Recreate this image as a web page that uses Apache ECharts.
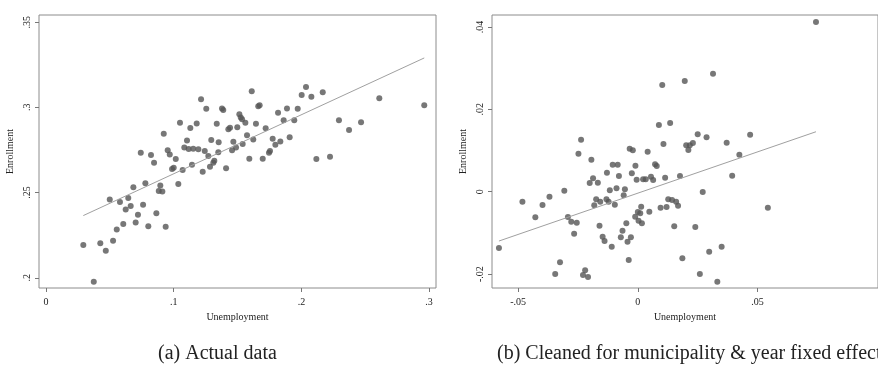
<!DOCTYPE html>
<html>
<head>
<meta charset="utf-8">
<script src="https://cdn.jsdelivr.net/npm/echarts@6/dist/echarts.min.js"></script>
<style>
  html, body { margin: 0; padding: 0; background: #fff; }
  #chart { width: 878px; height: 365px; }
</style>
</head>
<body>
<div id="chart"></div>
<script>
// (a) actual data
const actualUnemployment = [
  .1214, .1255, .1049, .1130, .1180, .1337, .0922, .1104, .1294, .1352,
  .1083, .1117, .1153, .1193, .1243, .0742, .0822, .0953, .0969, .1016,
  .1271, .1611, .2036, .2002, .2078, .2167, .2610, .2962, .1378, .1388,
  .1662, .1673, .1817, .1887, .1971, .1514, .1525, .1535, .1561, .1644,
  .1861, .1944, .2294, .1428, .1441, .1498, .1720, .2373, .2467, .1574,
  .1467, .1623, .1775, .1835, .1908, .1796, .1540, .1488, .1457, .1349,
  .1592, .1697, .1746, .1754, .2117, .2224, .1227, .1284, .1318, .1310,
  .1410, .0846, .0987, .1000, .1070, .1143, .1036, .0778, .0684, .0895,
  .0883, .0911, .0499, .0579, .0644, .0663, .0624, .0760, .0720, .0864,
  .0702, .0605, .0801, .0937, .0554, .0525, .0425, .0468, .0292, .0374
];
const actualEnrollment = [
  .3047, .2992, .2910, .2879, .2906, .2904, .2845, .2806, .2808, .2795,
  .2765, .2755, .2757, .2754, .2744, .2734, .2720, .2749, .2724, .2697,
  .2714, .3094, .3119, .3072, .3062, .3088, .3053, .3013, .2994, .2984,
  .3006, .3013, .2968, .2994, .2992, .2959, .2941, .2930, .2910, .2904,
  .2924, .2925, .2925, .2871, .2880, .2883, .2877, .2867, .2912, .2837,
  .2798, .2812, .2816, .2800, .2824, .2781, .2785, .2765, .2749, .2736,
  .2698, .2698, .2734, .2744, .2697, .2710, .2622, .2651, .2687, .2675,
  .2642, .2675, .2638, .2646, .2632, .2663, .2550, .2554, .2531, .2542,
  .2509, .2507, .2460, .2444, .2468, .2421, .2401, .2428, .2370, .2378,
  .2325, .2315, .2302, .2299, .2284, .2217, .2202, .2158, .2192, .1977
];
const actualFitX = [.0292, .2962];
const actualFitY = [.2365, .3290];

// (b) cleaned for municipality & year fixed effects
const cleanedUnemployment = [
  -.0237, -.0248, -.0194, -.0034, -.0021, .0041, .0088, .0744, .0102, .0196,
  .0314, .0135, .0250, .0287, .0469, .0107, .0202, .0217, .0230, .0211,
  .0371, .0424, -.0105, -.0084, -.0010, .0072, .0079, -.0129, -.0079, -.0025,
  -.0005, .0022, .0033, .0055, .0064, -.0187, -.0201, -.0167, -.0089, -.0117,
  -.0054, -.0059, -.0307, -.0369, -.0482, -.0398, -.0428, -.0292, -.0278, -.0255,
  -.0174, -.0157, -.0131, -.0122, -.0182, -.0096, -.0011, .0000, .0010, .0014,
  .0003, .0017, .0048, -.0048, -.0160, -.0266, -.0064, -.0147, -.0139, -.0071,
  -.0029, -.0043, -.0109, -.0580, -.0038, -.0325, -.0345, -.0220, -.0229, -.0208,
  .0114, .0176, .0394, .0271, .0127, .0143, .0160, .0168, .0095, .0120,
  .0543, .0152, .0240, .0350, .0298, .0186, .0259, .0332
];
const cleanedEnrollment = [
  .01262, .00922, .00777, .01044, .01005, .00971, .01619, .04119, .02590, .02687,
  .02864, .01667, .01393, .01320, .01383, .01158, .01126, .01126, .01182, .01012,
  .01189, .00898, .00655, .00655, .00631, .00665, .00624, .00461, .00381, .00447,
  .00291, .00301, .00301, .00364, .00284, .00325, .00211, .00218, .00083, .00034,
  .00058, -.00087, .00024, -.00121, -.00243, -.00323, -.00621, -.00614, -.00728, -.00752,
  -.00184, -.00243, -.00184, -.00243, -.00330, -.00316, -.00607, -.00493, -.00524, -.00364,
  -.00704, -.00767, -.00485, -.00767, -.00825, -.01019, -.00947, -.01092, -.01197, -.01107,
  -.01107, -.01214, -.01335, -.01367, -.01658, -.01714, -.01998, -.01908, -.02022, -.02070,
  .00340, .00381, .00388, -.00007, -.00184, -.00201, -.00243, -.00340, -.00388, -.00371,
  -.00388, -.00840, -.00857, -.01335, -.01456, -.01617, -.01998, -.02184
];
const cleanedFitX = [-.0580, .0744];
const cleanedFitY = [-.01197, .01456];

// tick labels
const actualXTicks = [0, .1, .2, .3];
const actualYTicks = [.2, .25, .3, .35];
const cleanedXTicks = [-.05, 0, .05];
const cleanedYTicks = [-.02, 0, .02, .04];

const captions = ['(a) Actual data', '(b) Cleaned for municipality & year fixed effects'];

const zip = (xs, ys) => xs.map((x, i) => [x, ys[i]]);
const fmt = v => String(+v.toFixed(4)).replace('0.', '.');

const serif = 'Liberation Serif';
const dotColor = '#555555';
const frameColor = '#8c8c8c';

function xAxisFor(grid, min, max, ticks) {
  return {
    type: 'value', gridIndex: grid, min: min, max: max,
    name: 'Unemployment', nameLocation: 'middle', nameGap: 24,
    nameTextStyle: { fontFamily: serif, fontSize: 10, color: '#222' },
    axisLine: { show: false, onZero: false },
    axisTick: { show: true, length: 4, customValues: ticks, lineStyle: { color: '#777' } },
    axisLabel: { customValues: ticks, formatter: fmt, margin: 9, fontFamily: serif, fontSize: 10, color: '#222' },
    splitLine: { show: false }
  };
}
function yAxisFor(grid, min, max, ticks) {
  return {
    type: 'value', gridIndex: grid, min: min, max: max,
    name: 'Enrollment', nameLocation: 'middle', nameGap: 24, nameRotate: 90,
    nameTextStyle: { fontFamily: serif, fontSize: 10, color: '#222' },
    axisLine: { show: false, onZero: false },
    axisTick: { show: true, length: 4, customValues: ticks, lineStyle: { color: '#777' } },
    axisLabel: { customValues: ticks, formatter: fmt, rotate: 90, margin: 7, fontFamily: serif, fontSize: 10, color: '#222' },
    splitLine: { show: false }
  };
}

const captionStyle = { fontFamily: serif, fontSize: 20, fontWeight: 'normal', color: '#222' };

const chart = echarts.init(document.getElementById('chart'));
chart.setOption({
  animation: false,
  backgroundColor: '#fff',
  title: [
    { text: captions[0], left: 158, top: 344, padding: 0, textStyle: captionStyle },
    { text: captions[1], left: 497, top: 344, padding: 0, textStyle: captionStyle }
  ],
  grid: [
    { left: 39, top: 15, width: 397, bottom: 77, show: true, borderColor: frameColor, borderWidth: 1, backgroundColor: '#fff' },
    { left: 492, top: 15, right: -4, bottom: 77, show: true, borderColor: frameColor, borderWidth: 1, backgroundColor: '#fff' }
  ],
  xAxis: [
    xAxisFor(0, -.0055, .3054, actualXTicks),
    xAxisFor(1, -.0609, .1003, cleanedXTicks)
  ],
  yAxis: [
    yAxisFor(0, .1940, .3542, actualYTicks),
    yAxisFor(1, -.02337, .0429, cleanedYTicks)
  ],
  series: [
    { type: 'scatter', xAxisIndex: 0, yAxisIndex: 0, symbolSize: 6,
      itemStyle: { color: dotColor }, data: zip(actualUnemployment, actualEnrollment) },
    { type: 'line', xAxisIndex: 0, yAxisIndex: 0, symbol: 'none',
      lineStyle: { color: '#a0a0a0', width: 1 }, data: zip(actualFitX, actualFitY) },
    { type: 'scatter', xAxisIndex: 1, yAxisIndex: 1, symbolSize: 6,
      itemStyle: { color: dotColor }, data: zip(cleanedUnemployment, cleanedEnrollment) },
    { type: 'line', xAxisIndex: 1, yAxisIndex: 1, symbol: 'none',
      lineStyle: { color: '#a0a0a0', width: 1 }, data: zip(cleanedFitX, cleanedFitY) }
  ]
});
</script>
</body>
</html>
